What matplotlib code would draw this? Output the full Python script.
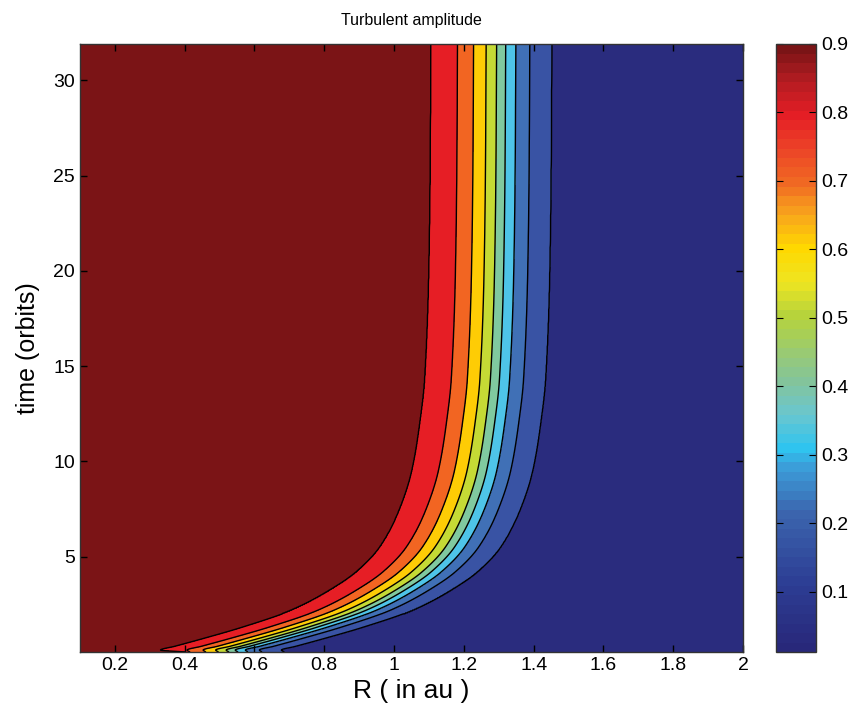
import numpy as np
import matplotlib
matplotlib.use("Agg")
import matplotlib.pyplot as plt
from matplotlib.colors import ListedColormap, BoundaryNorm, LinearSegmentedColormap, Normalize
from matplotlib.cm import ScalarMappable

plt.rcParams['font.family'] = ['Liberation Sans', 'DejaVu Sans']

# ---- data ----
title = "Turbulent amplitude"
xlabel = "R ( in au )"
ylabel = "time (orbits)"

# time rows (orbits) at which contour positions were read
t_rows = [0.0, 0.1, 0.3, 0.7, 1.3, 2.2, 3.4, 4.2, 5.5, 7.5, 9.5, 12.0, 14.3, 20.0, 25.4, 32.0]

# contour levels (high -> low) and R positions of each contour at the time rows
levels = [0.81, 0.72, 0.63, 0.54, 0.45, 0.36, 0.27, 0.18, 0.09]
r_081 = [0.405, 0.331, 0.372, 0.452, 0.565, 0.707, 0.830, 0.892, 0.959, 1.016, 1.051, 1.074, 1.088, 1.100, 1.104, 1.106]
r_072 = [0.415, 0.407, 0.448, 0.528, 0.641, 0.783, 0.906, 0.968, 1.035, 1.092, 1.127, 1.150, 1.164, 1.176, 1.180, 1.182]
r_063 = [0.461, 0.453, 0.494, 0.574, 0.687, 0.829, 0.952, 1.014, 1.081, 1.138, 1.173, 1.196, 1.210, 1.222, 1.226, 1.228]
r_054 = [0.497, 0.489, 0.530, 0.610, 0.723, 0.865, 0.988, 1.050, 1.117, 1.174, 1.209, 1.232, 1.246, 1.258, 1.262, 1.264]
r_045 = [0.527, 0.519, 0.560, 0.640, 0.753, 0.895, 1.018, 1.080, 1.147, 1.204, 1.239, 1.262, 1.276, 1.288, 1.292, 1.294]
r_036 = [0.553, 0.545, 0.586, 0.666, 0.779, 0.921, 1.044, 1.106, 1.173, 1.230, 1.265, 1.288, 1.302, 1.314, 1.318, 1.320]
r_027 = [0.582, 0.574, 0.615, 0.695, 0.808, 0.950, 1.073, 1.135, 1.202, 1.259, 1.294, 1.317, 1.331, 1.343, 1.347, 1.349]
r_018 = [0.622, 0.614, 0.655, 0.735, 0.848, 0.990, 1.113, 1.175, 1.242, 1.299, 1.334, 1.357, 1.371, 1.383, 1.387, 1.389]
r_009 = [0.685, 0.677, 0.718, 0.798, 0.911, 1.053, 1.176, 1.238, 1.305, 1.362, 1.397, 1.420, 1.434, 1.446, 1.450, 1.452]

amp_max = 0.9
amp_min = 0.012

xticks = [0.2, 0.4, 0.6, 0.8, 1.0, 1.2, 1.4, 1.6, 1.8, 2.0]
yticks = [5, 10, 15, 20, 25, 30]
cticks = [0.1, 0.2, 0.3, 0.4, 0.5, 0.6, 0.7, 0.8, 0.9]

# colours of the filled bands (low -> high)
band_colors = ["#2a2c7e", "#3953a4", "#4070b6", "#4ec4e8", "#80c99f",
               "#c5da35", "#fecc05", "#f26522", "#e61e25", "#7b1416"]
# colorbar colour anchors (value, colour)
cbar_anchor_vals = [0.0, 0.1, 0.2, 0.27, 0.3, 0.35, 0.4, 0.5, 0.55, 0.6, 0.65, 0.7, 0.75, 0.8, 0.85, 0.9]
cbar_anchor_cols = ["#28287a", "#2d3f95", "#3b65ae", "#3c9cd8", "#2fc4ef", "#6ac6cf", "#84c49a",
                    "#b6d33c", "#eee521", "#ffd800", "#f8a51c", "#f06a23", "#ec4427", "#e51e25",
                    "#b61c22", "#7a1416"]


def pchip(x, y, xq):
    """Monotone piecewise cubic Hermite interpolation (smooth curve through read points)."""
    x = np.asarray(x, float)
    y = np.asarray(y, float)
    h = np.diff(x)
    d = np.diff(y) / h
    m = np.zeros_like(y)
    for k in range(1, len(y) - 1):
        if d[k - 1] * d[k] > 0:
            w1 = 2 * h[k] + h[k - 1]
            w2 = h[k] + 2 * h[k - 1]
            m[k] = (w1 + w2) / (w1 / d[k - 1] + w2 / d[k])
    m[0] = d[0]
    m[-1] = d[-1]
    idx = np.clip(np.searchsorted(x, xq) - 1, 0, len(h) - 1)
    s = (xq - x[idx]) / h[idx]
    h00 = 2 * s**3 - 3 * s**2 + 1
    h10 = s**3 - 2 * s**2 + s
    h01 = -2 * s**3 + 3 * s**2
    h11 = s**3 - s**2
    return h00 * y[idx] + h10 * h[idx] * m[idx] + h01 * y[idx + 1] + h11 * h[idx] * m[idx + 1]


# ---- build the field from the contour positions ----
xmin, xmax = 0.1, 2.0
ymin, ymax = 0.0, 31.9
contours = [r_081, r_072, r_063, r_054, r_045, r_036, r_027, r_018, r_009]
R = np.linspace(xmin, xmax, 1400)
T = np.unique(np.concatenate([np.linspace(0, 2, 400), np.linspace(2, ymax, 600)]))
pos_all = np.array([pchip(t_rows, c, T) for c in contours])  # (9, nT)
pos_all = np.maximum.accumulate(pos_all, axis=0)
Z = np.empty((T.size, R.size))
vals = np.concatenate([[amp_max], levels, [amp_min]])
for i in range(T.size):
    pos = pos_all[:, i] + np.arange(9) * 1e-6
    xs = np.concatenate([[xmin - 0.01], pos, [xmax + 0.01]])
    Z[i] = np.interp(R, xs, vals)

# ---- figure ----
fig = plt.figure(figsize=(8.56, 7.2), dpi=100)
ax = fig.add_axes([80 / 856, 1 - 652 / 720, 663 / 856, 608 / 720])
fill_levels = [0.0] + levels[::-1] + [0.9001]
cmap_fill = ListedColormap(band_colors)
norm_fill = BoundaryNorm(fill_levels, cmap_fill.N)
ax.contourf(R, T, Z, levels=fill_levels, cmap=cmap_fill, norm=norm_fill)
ax.contour(R, T, Z, levels=levels[::-1], colors='black', linewidths=1.0)

ax.set_xlim(xmin, xmax)
ax.set_ylim(ymin, ymax)
ax.set_xticks(xticks)
ax.set_xticklabels([f"{v:g}" for v in xticks])
ax.set_yticks(yticks)
ax.tick_params(direction='in', top=True, right=True, length=5, width=1.0,
               labelsize=14, color='black')
for s in ax.spines.values():
    s.set_linewidth(1.0)
    s.set_color('#333333')
ax.set_title(title, fontsize=11.5, pad=14)
ax.set_xlabel(xlabel, fontsize=19, labelpad=4)
ax.set_ylabel(ylabel, fontsize=18, labelpad=10)

# colorbar
cax = fig.add_axes([776 / 856, 1 - 652 / 720, 40 / 856, 608 / 720])
anchor_cmap = LinearSegmentedColormap.from_list(
    "jetlike", list(zip(np.array(cbar_anchor_vals) / 0.9, cbar_anchor_cols)))
cmap_bar = ListedColormap(anchor_cmap(np.linspace(0, 1, 64)))
sm = ScalarMappable(norm=Normalize(amp_min, amp_max), cmap=cmap_bar)
cb = fig.colorbar(sm, cax=cax)
cb.set_ticks(cticks)
cb.set_ticklabels([f"{v:g}" for v in cticks])
cb.ax.tick_params(direction='in', left=True, right=True, length=5, labelsize=14)
cb.outline.set_linewidth(1.0)
cb.outline.set_edgecolor('#333333')

fig.savefig("out.png", dpi=100, facecolor='white')
